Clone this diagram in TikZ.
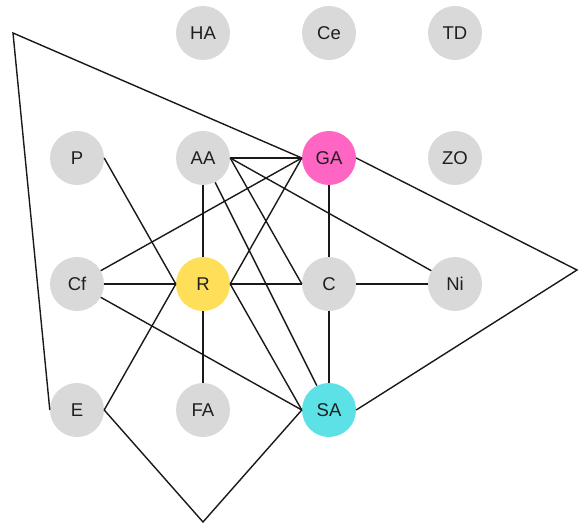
\documentclass[tikz,border=0pt]{standalone}
\usepackage{fontspec}
\setmainfont{Liberation Sans}
\definecolor{nodegray}{HTML}{D9D9D9}
\definecolor{gapink}{HTML}{FF66C4}
\definecolor{ryellow}{HTML}{FFDE59}
\definecolor{sacyan}{HTML}{5CE1E6}
\definecolor{txt}{HTML}{1F1F1F}
\begin{document}
\begin{tikzpicture}[x=1pt,y=-1pt,
  vtx/.style={circle, fill=nodegray, draw=none, minimum size=54pt, inner sep=0pt,
    font=\fontsize{18.5}{18.5}\selectfont, text=txt},
  link/.style={draw=black!90, line width=1.4pt, line join=miter}]
\useasboundingbox (0,0) rectangle (584,529);
\node[vtx] (HA) at (203,33) {HA};
\node[vtx] (Ce) at (329,33) {Ce};
\node[vtx] (TD) at (455,33) {TD};
\node[vtx] (P) at (77,158) {P};
\node[vtx] (AA) at (203,158) {AA};
\node[vtx, fill=gapink] (GA) at (329,158) {GA};
\node[vtx] (ZO) at (455,158) {ZO};
\node[vtx] (Cf) at (77,284) {Cf};
\node[vtx, fill=ryellow] (R) at (203,284) {R};
\node[vtx] (C) at (329,284) {C};
\node[vtx] (Ni) at (455,284) {Ni};
\node[vtx] (E) at (77,410) {E};
\node[vtx] (FA) at (203,410) {FA};
\node[vtx, fill=sacyan] (SA) at (329,410) {SA};
\coordinate (w1) at (13,33);
\coordinate (w2) at (203,522);
\coordinate (w3) at (577,270);
\draw[link] (E.west) -- (w1) -- (GA.west);
\draw[link] (P.east) -- (R.west);
\draw[link] (AA) -- (R);
\draw[link] (AA.east) -- (GA.west);
\draw[link] (AA.east) -- (C.west);
\draw[link] (AA.east) -- (Ni);
\draw[link] (AA) -- (SA);
\draw[link] (R.east) -- (C.west);
\draw[link] (R.east) -- (SA.west);
\draw[link] (R.east) -- (GA.west);
\draw[link] (Cf) -- (GA.west);
\draw[link] (Cf.east) -- (R.west);
\draw[link] (Cf) -- (SA.west);
\draw[link] (R) -- (FA);
\draw[link] (R.west) -- (E.east);
\draw[link] (E.east) -- (w2) -- (SA.west);
\draw[link] (GA.east) -- (w3) -- (SA.east);
\draw[link] (GA) -- (C);
\draw[link] (C) -- (Ni);
\draw[link] (C) -- (SA);
\end{tikzpicture}
\end{document}
